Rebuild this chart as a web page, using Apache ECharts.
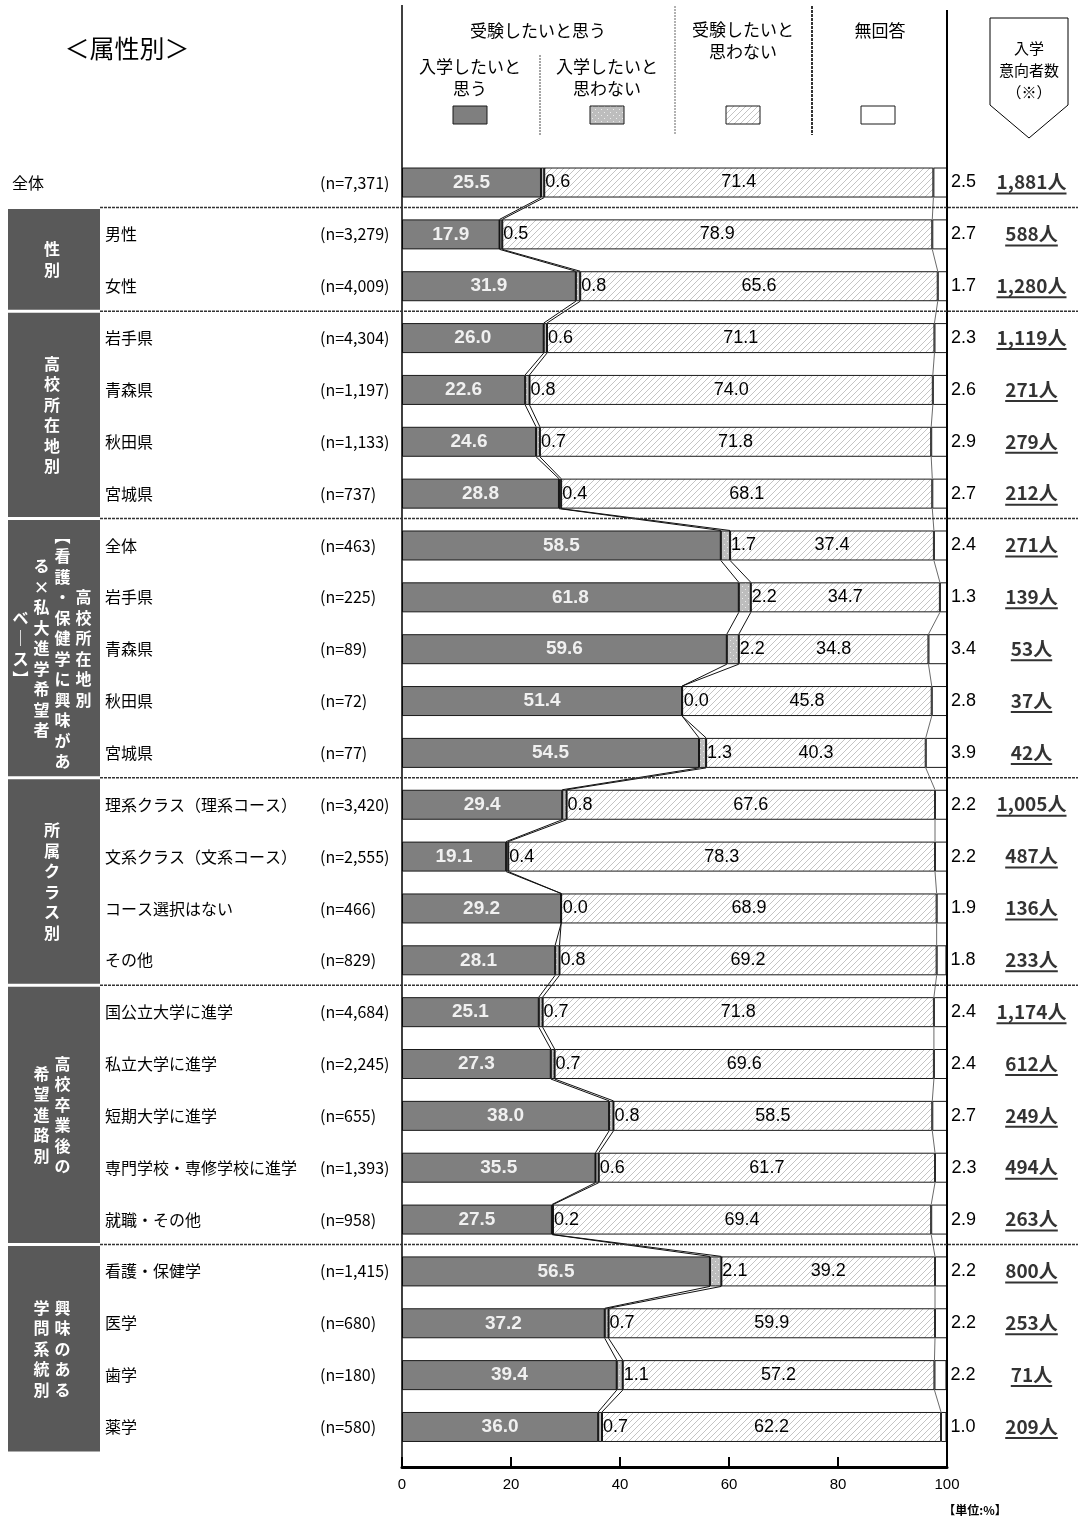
<!DOCTYPE html>
<html>
<head>
<meta charset="utf-8">
<script src="https://cdn.jsdelivr.net/npm/echarts@6/dist/echarts.min.js"></script>
<style>
html, body { margin: 0; padding: 0; background: #fff; }
#chart { width: 1078px; height: 1520px; }
</style>
</head>
<body>
<div id="chart"></div>
<script>
// rows, top to bottom
var categories = ['全体', '男性', '女性', '岩手県', '青森県', '秋田県', '宮城県',
    '全体', '岩手県', '青森県', '秋田県', '宮城県',
    '理系クラス（理系コース）', '文系クラス（文系コース）', 'コース選択はない', 'その他',
    '国公立大学に進学', '私立大学に進学', '短期大学に進学', '専門学校・専修学校に進学', '就職・その他',
    '看護・保健学', '医学', '歯学', '薬学'];
var sampleSizes = ['7,371', '3,279', '4,009', '4,304', '1,197', '1,133', '737',
    '463', '225', '89', '72', '77',
    '3,420', '2,555', '466', '829',
    '4,684', '2,245', '655', '1,393', '958',
    '1,415', '680', '180', '580'];
// 受験したいと思う・入学したいと思う
var wantEnroll = [25.5, 17.9, 31.9, 26.0, 22.6, 24.6, 28.8, 58.5, 61.8, 59.6, 51.4, 54.5,
    29.4, 19.1, 29.2, 28.1, 25.1, 27.3, 38.0, 35.5, 27.5, 56.5, 37.2, 39.4, 36.0];
// 受験したいと思う・入学したいと思わない
var notEnroll = [0.6, 0.5, 0.8, 0.6, 0.8, 0.7, 0.4, 1.7, 2.2, 2.2, 0.0, 1.3,
    0.8, 0.4, 0.0, 0.8, 0.7, 0.7, 0.8, 0.6, 0.2, 2.1, 0.7, 1.1, 0.7];
// 受験したいと思わない
var notExam = [71.4, 78.9, 65.6, 71.1, 74.0, 71.8, 68.1, 37.4, 34.7, 34.8, 45.8, 40.3,
    67.6, 78.3, 68.9, 69.2, 71.8, 69.6, 58.5, 61.7, 69.4, 39.2, 59.9, 57.2, 62.2];
// 無回答
var noAnswer = [2.5, 2.7, 1.7, 2.3, 2.6, 2.9, 2.7, 2.4, 1.3, 3.4, 2.8, 3.9,
    2.2, 2.2, 1.9, 1.8, 2.4, 2.4, 2.7, 2.3, 2.9, 2.2, 2.2, 2.2, 1.0];
// 入学意向者数
var enrollCounts = ['1,881', '588', '1,280', '1,119', '271', '279', '212',
    '271', '139', '53', '37', '42',
    '1,005', '487', '136', '233',
    '1,174', '612', '249', '494', '263',
    '800', '253', '71', '209'];
// group boxes on the left (first row, last row, columns right to left)
var groups = [
    { from: 1, to: 2, cols: ['性別'] },
    { from: 3, to: 6, cols: ['高校所在地別'] },
    { from: 7, to: 11, cols: ['高校所在地別', '︻看護・保健学に興味があ', 'る×私大進学希望者', 'ベ｜ス︼'] },
    { from: 12, to: 15, cols: ['所属クラス別'] },
    { from: 16, to: 20, cols: ['高校卒業後の', '希望進路別'] },
    { from: 21, to: 24, cols: ['興味のある', '学問系統別'] }
];

var JP = '"Noto Sans CJK JP", sans-serif';
var NUM = '"Liberation Sans Narrow", "Liberation Sans", sans-serif';

var chartDiv = document.getElementById('chart');
var myChart = echarts.init(chartDiv, null, { renderer: 'canvas' });

// fill patterns
function makePattern(kind) {
    var c = document.createElement('canvas');
    c.width = 6;
    c.height = 6;
    var ctx = c.getContext('2d');
    if (kind === 'dots') {
        ctx.fillStyle = '#bdbdbd';
        ctx.fillRect(0, 0, 6, 6);
        ctx.fillStyle = '#ececec';
        ctx.fillRect(1, 1, 1, 1);
        ctx.fillRect(4, 4, 1, 1);
    } else {
        ctx.fillStyle = '#ffffff';
        ctx.fillRect(0, 0, 6, 6);
        ctx.strokeStyle = '#c4c4c4';
        ctx.lineWidth = 1;
        ctx.beginPath();
        ctx.moveTo(-1, 7); ctx.lineTo(7, -1);
        ctx.moveTo(-1, 1); ctx.lineTo(1, -1);
        ctx.moveTo(5, 7); ctx.lineTo(7, 5);
        ctx.stroke();
    }
    return { image: c, repeat: 'repeat' };
}
var dotFill = makePattern('dots');
var hatchFill = makePattern('hatch');
var darkFill = '#7f7f7f';

var measureCtx = document.createElement('canvas').getContext('2d');
measureCtx.font = 'bold 19px ' + JP;
function textWidth(s) {
    return measureCtx.measureText(s).width;
}

var halfBar = 15 / 51.85;
function boundaryLine(cum, color, width) {
    var pts = [];
    for (var i = 0; i < cum.length; i++) {
        pts.push([cum[i], i + 0.5 - halfBar]);
        pts.push([cum[i], i + 0.5 + halfBar]);
    }
    return {
        type: 'line',
        xAxisIndex: 0,
        yAxisIndex: 1,
        data: pts,
        symbol: 'none',
        silent: true,
        z: 4,
        lineStyle: { color: color, width: width }
    };
}

var cum1 = [], cum2 = [], cum3 = [];
for (var i = 0; i < categories.length; i++) {
    cum1.push(wantEnroll[i]);
    cum2.push(wantEnroll[i] + notEnroll[i]);
    cum3.push(wantEnroll[i] + notEnroll[i] + notExam[i]);
}

function fmt(p) {
    return Number(p.value).toFixed(1);
}

function barSeries(name, data, fill, label) {
    return {
        name: name,
        type: 'bar',
        stack: 'total',
        xAxisIndex: 0,
        yAxisIndex: 0,
        data: data,
        barWidth: 30,
        silent: true,
        z: 2,
        itemStyle: { color: fill, borderColor: '#1a1a1a', borderWidth: 1 },
        label: label
    };
}

var option = {
    animation: false,
    backgroundColor: '#fff',
    textStyle: { fontFamily: JP },
    grid: [
        { left: 402, right: 131, top: 156.6, bottom: 67.1, containLabel: false, outerBoundsMode: 'none' },
        { left: 990, right: 5, top: 156.6, bottom: 67.1, containLabel: false, outerBoundsMode: 'none' }
    ],
    xAxis: [{
        type: 'value',
        gridIndex: 0,
        position: 'bottom',
        min: 0,
        max: 100,
        interval: 20,
        offset: 14,
        axisLine: { show: true, onZero: false, lineStyle: { color: '#000', width: 3 } },
        axisTick: { show: true, inside: true, length: 10, lineStyle: { color: '#000', width: 2 } },
        splitLine: { show: false },
        axisLabel: { color: '#000', fontFamily: NUM, fontSize: 15, margin: 10 }
    }, {
        type: 'value',
        gridIndex: 1,
        min: 0,
        max: 1,
        show: false
    }],
    yAxis: [{
        type: 'category',
        gridIndex: 0,
        inverse: true,
        data: categories,
        axisLine: { show: false },
        axisTick: { show: false },
        splitLine: { show: false },
        axisLabel: {
            interval: 0,
            align: 'left',
            margin: 390,
            color: '#000',
            formatter: function (value, idx) {
                var n = '{n|(n=' + sampleSizes[idx] + ')}';
                if (idx === 0) {
                    return '{all|' + value + '}' + n;
                }
                return '{sp| }{name|' + value + '}' + n;
            },
            rich: {
                all: { width: 308, fontSize: 16, fontFamily: JP, color: '#000' },
                sp: { width: 93, fontSize: 16 },
                name: { width: 215, fontSize: 16, fontFamily: JP, color: '#000' },
                n: { fontSize: 16, fontFamily: JP, color: '#000' }
            }
        }
    }, {
        type: 'value',
        gridIndex: 0,
        min: 0,
        max: 25,
        inverse: true,
        show: false
    }, {
        type: 'category',
        gridIndex: 1,
        inverse: true,
        data: categories,
        show: false
    }],
    series: [
        barSeries('入学したいと思う', wantEnroll, darkFill, {
            show: true, position: 'inside', color: '#f0f0f0', fontFamily: NUM,
            fontWeight: 'bold', fontSize: 19, formatter: fmt
        }),
        barSeries('入学したいと思わない', notEnroll, dotFill, {
            show: true, position: 'right', distance: 1, color: '#000', fontFamily: NUM,
            fontSize: 18, formatter: fmt
        }),
        barSeries('受験したいと思わない', notExam, hatchFill, {
            show: true, position: 'inside', color: '#000', fontFamily: NUM,
            fontSize: 18, formatter: fmt
        }),
        barSeries('無回答', noAnswer, '#ffffff', {
            show: true, position: 'right', distance: 4, color: '#000', fontFamily: NUM,
            fontSize: 18, formatter: fmt
        }),
        boundaryLine(cum1, '#111', 1),
        boundaryLine(cum2, '#111', 1),
        boundaryLine(cum3, '#444', 0.8),
        {
            type: 'scatter',
            xAxisIndex: 1,
            yAxisIndex: 2,
            silent: true,
            symbol: 'rect',
            symbolOffset: [0, 11],
            itemStyle: { color: '#000' },
            data: enrollCounts.map(function (c, i) {
                return { value: [0.5, i], symbolSize: [textWidth(c + '人'), 2] };
            }),
            label: {
                show: true,
                position: 'top',
                distance: 1,
                color: '#000',
                fontFamily: JP,
                fontWeight: 'bold',
                fontSize: 19,
                formatter: function (p) {
                    return enrollCounts[p.dataIndex] + '人';
                }
            }
        }
    ]
};
myChart.setOption(option);

// decoration: header, frame lines, group boxes
function rowEdge(k) {
    return myChart.convertToPixel({ yAxisIndex: 1 }, k);
}
var x0 = myChart.convertToPixel({ xAxisIndex: 0 }, 0);
var x100 = myChart.convertToPixel({ xAxisIndex: 0 }, 100);
var axisY = rowEdge(25) + 14;

var g = [];
function text(x, y, s, font, extra) {
    var st = { text: s, font: font, fill: '#000', align: 'center', verticalAlign: 'middle' };
    for (var k in extra) st[k] = extra[k];
    g.push({ type: 'text', x: x, y: y, silent: true, z: 10, style: st });
}
function line(x1, y1, x2, y2, stroke, w, dash) {
    g.push({
        type: 'line', silent: true, z: 9,
        shape: { x1: x1, y1: y1, x2: x2, y2: y2 },
        style: { stroke: stroke, lineWidth: w, lineDash: dash || null }
    });
}
function rect(x, y, w, h, fill, stroke) {
    g.push({
        type: 'rect', silent: true, z: 8,
        shape: { x: x, y: y, width: w, height: h },
        style: { fill: fill, stroke: stroke || null, lineWidth: stroke ? 1 : 0 }
    });
}

text(127, 48, '＜属性別＞', '25px ' + JP);

// header / legend
text(538, 31, '受験したいと思う', '17px ' + JP);
text(470, 78, '入学したいと\n思う', '17px ' + JP, { lineHeight: 22 });
text(607, 78, '入学したいと\n思わない', '17px ' + JP, { lineHeight: 22 });
text(743, 41, '受験したいと\n思わない', '17px ' + JP, { lineHeight: 22 });
text(880, 31, '無回答', '17px ' + JP);
rect(453, 106, 34, 18, darkFill, '#1a1a1a');
rect(590, 106, 34, 18, dotFill, '#1a1a1a');
rect(726, 106, 34, 18, hatchFill, '#1a1a1a');
rect(861, 106, 34, 18, '#fff', '#1a1a1a');
line(540, 55, 540, 135, '#888', 1.5, [2, 1]);
line(675, 6, 675, 135, '#999', 1.5, [2, 1]);
line(812, 6, 812, 135, '#333', 2, [3, 1]);

g.push({
    type: 'polygon', silent: true, z: 8,
    shape: { points: [[990, 18], [1068, 18], [1068, 105], [1029, 138], [990, 105]] },
    style: { fill: '#fff', stroke: '#000', lineWidth: 1 }
});
text(1029, 70, '入学\n意向者数\n（※）', '15px ' + JP, { lineHeight: 22 });

// frame
line(x0, 5, x0, axisY, '#000', 1.5);
line(x100, 10, x100, axisY, '#000', 2);

// group boxes and separators
groups.forEach(function (grp) {
    var top = rowEdge(grp.from) - 1;
    var bottom = grp.to === categories.length - 1 ? rowEdge(grp.to + 1) : rowEdge(grp.to + 1) - 1;
    line(100, top, 1078, top, '#333', 1.5, [3, 1]);
    rect(8, top + 1.5, 92, bottom - top - 3, '#595959');
    var n = grp.cols.length;
    grp.cols.forEach(function (col, j) {
        var cx = 52 + (n - 1) * 21 / 2 - j * 21;
        text(cx, (top + bottom) / 2, col.split('').join('\n'), 'bold 16px ' + JP,
            { fill: '#fff', lineHeight: 20.5 });
    });
});

text(975, 1510, '【単位:%】', 'bold 12px ' + JP);

myChart.setOption({ graphic: { elements: g } });
</script>
</body>
</html>
